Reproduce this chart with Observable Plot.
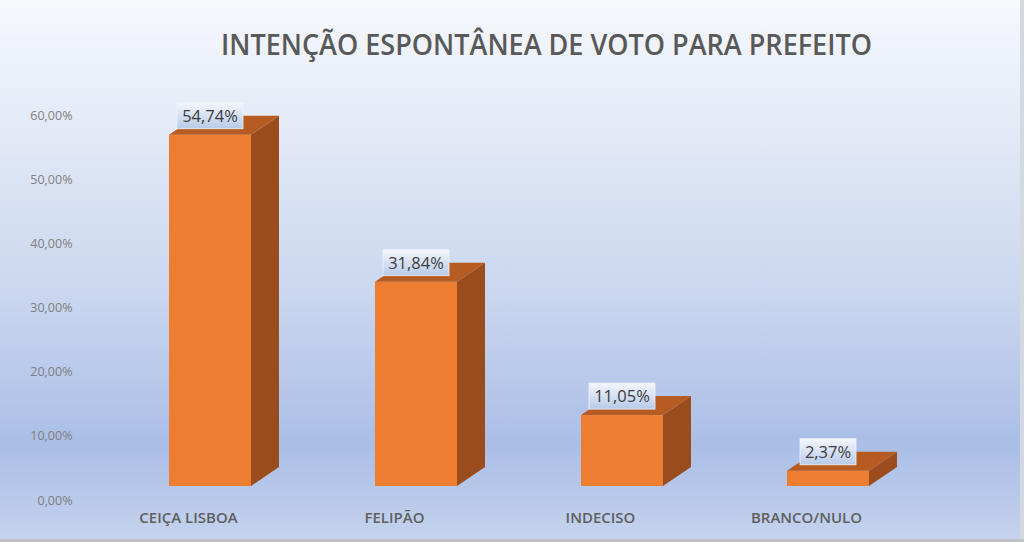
<!DOCTYPE html>
<html>
<head>
<meta charset="utf-8">
<script src="https://cdn.jsdelivr.net/npm/d3@7"></script>
<script src="https://cdn.jsdelivr.net/npm/@observablehq/plot@0.6"></script>
<style>
  html, body { margin: 0; padding: 0; }
  #wrap {
    position: relative; width: 1024px; height: 542px; overflow: hidden;
    background: linear-gradient(to bottom, #f6f8fc 0%, #e6ecf7 20%, #c9d6ef 55%, #aabee6 82%, #b9c9ea 92%, #c6d4ee 100%);
    font-family: "Open Sans", sans-serif;
  }
  #title {
    position: absolute; left: 221px; top: 25px; white-space: nowrap;
    font-family: "Open Sans", sans-serif; font-weight: 600; font-size: 28px;
    color: #595959; transform-origin: left top;
  }
  #chart { position: absolute; left: 0; top: 80px; }
  #edgeR { position: absolute; right: 0; top: 0; width: 4px; height: 542px; background: #d4d8df; }
  #edgeB { position: absolute; left: 0; bottom: 0; width: 1024px; height: 3px; background: #bfc3c8; }
</style>
</head>
<body>
<div id="wrap">
  <div id="title">INTENÇÃO ESPONTÂNEA DE VOTO PARA PREFEITO</div>
  <div id="chart"></div>
  <div id="edgeR"></div>
  <div id="edgeB"></div>
</div>
<script>
const categories = ["CEIÇA LISBOA", "FELIPÃO", "INDECISO", "BRANCO/NULO"];
const values = [0.5474, 0.3184, 0.1105, 0.0237];
const valueLabels = ["54,74%", "31,84%", "11,05%", "2,37%"];
const yTicks = [0, 0.1, 0.2, 0.3, 0.4, 0.5, 0.6];

const data = categories.map((c, i) => ({category: c, value: values[i], label: valueLabels[i]}));

const FRONT = "#ed7d31", SIDE = "#9b4c1d", TOP = "#b65c22";
const INSET = 62, SHIFT = 22, LIFT = 14, DX = 28, DY = 19;

function depthFaces(index, scales, vals, dimensions, context) {
  const x = scales.x, y = scales.y;
  const bw = x.bandwidth ? x.bandwidth() : 206;
  const g = d3.create("svg:g");
  const defs = g.append("defs");
  const grad = defs.append("linearGradient").attr("id", "lblgrad").attr("x1", 0).attr("y1", 0).attr("x2", 0).attr("y2", 1);
  grad.append("stop").attr("offset", "0%").attr("stop-color", "#f4f7fc");
  grad.append("stop").attr("offset", "100%").attr("stop-color", "#b8cae9");
  data.forEach(d => {
    const x0 = x(d.category) + INSET + SHIFT;
    const x1 = x(d.category) + bw - INSET + SHIFT;
    const yt = y(d.value) - LIFT;
    const yb = y(0) - LIFT;
    g.append("polygon")
      .attr("points", [[x1, yt], [x1 + DX, yt - DY], [x1 + DX, yb - DY], [x1, yb]].map(p => p.join(",")).join(" "))
      .attr("fill", SIDE);
    g.append("polygon")
      .attr("points", [[x0, yt], [x0 + DX, yt - DY], [x1 + DX, yt - DY], [x1, yt]].map(p => p.join(",")).join(" "))
      .attr("fill", TOP);
    const cx = (x0 + x1) / 2, cy = yt - DY;
    const w = d.label.length >= 6 ? 66 : 56;
    g.append("rect").attr("x", cx - w / 2).attr("y", cy - 13).attr("width", w).attr("height", 26)
      .attr("fill", "url(#lblgrad)").attr("stroke", "#eef3fb").attr("stroke-width", 0.8);
    g.append("text").attr("x", cx).attr("y", cy).attr("dy", "0.36em").attr("text-anchor", "middle")
      .attr("font-family", "Open Sans, sans-serif").attr("font-size", 16.5).attr("fill", "#3c3c3c")
      .text(d.label);
  });
  return g.node();
}

const fmt = v => (v * 100).toFixed(2).replace(".", ",") + "%";

const plot = Plot.plot({
  width: 1024,
  height: 462,
  marginTop: 35,
  marginBottom: 42,
  marginLeft: 85,
  marginRight: 115,
  style: {background: "transparent", fontFamily: "Open Sans, sans-serif", overflow: "visible"},
  x: {domain: categories, padding: 0},
  y: {domain: [0, 0.6]},
  marks: [
    Plot.axisY({ticks: yTicks, tickFormat: fmt, tickSize: 0, tickPadding: 13, fontSize: 12.5, color: "#7f7f7f", label: null}),
    Plot.axisX({tickSize: 0, tickPadding: 12, fontSize: 15, fontWeight: 600, color: "#5f5f5f", label: null}),
    Plot.barY(data, {x: "category", y: "value", fill: FRONT, insetLeft: INSET, insetRight: INSET, dx: SHIFT, dy: -LIFT}),
    depthFaces
  ]
});
document.getElementById("chart").appendChild(plot);

const t = document.getElementById("title");
const tw = t.getBoundingClientRect().width;
t.style.transform = `scaleX(${651 / tw})`;
</script>
</body>
</html>
